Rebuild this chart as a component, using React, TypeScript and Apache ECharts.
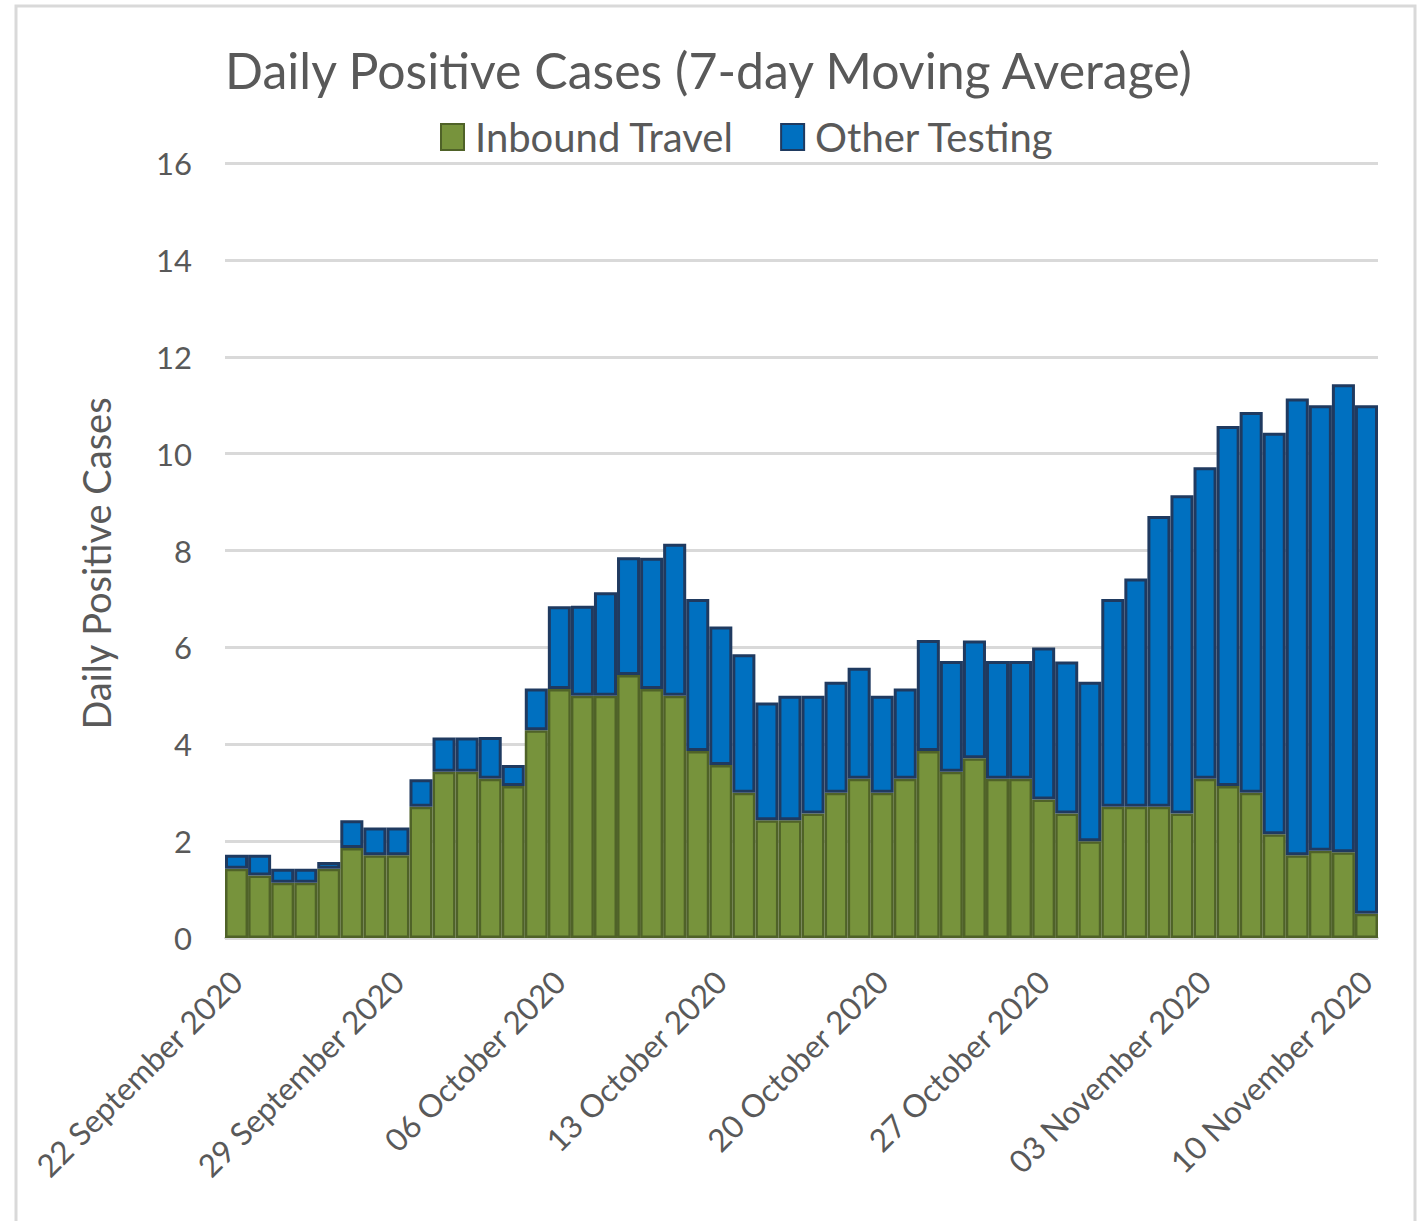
import React, { useEffect, useRef } from "react";
import * as echarts from "echarts";

const TITLE = "Daily Positive Cases (7-day Moving Average)";
const SERIES_NAMES = ["Inbound Travel", "Other Testing"];
const Y_AXIS_NAME = "Daily Positive Cases";
const START_DATE = [2020, 8, 22]; // 22 September 2020
const DAY_COUNT = 50;
const MONTHS = [
  "January", "February", "March", "April", "May", "June",
  "July", "August", "September", "October", "November", "December",
];

const inboundTravel = [
  1.43, 1.29, 1.14, 1.14, 1.43, 1.86, 1.71, 1.71, 2.71, 3.43,
  3.43, 3.29, 3.14, 4.29, 5.14, 5.0, 5.0, 5.43, 5.14, 5.0,
  3.86, 3.57, 3.0, 2.43, 2.43, 2.57, 3.0, 3.29, 3.0, 3.29,
  3.86, 3.43, 3.71, 3.29, 3.29, 2.86, 2.57, 2.0, 2.71, 2.71,
  2.71, 2.57, 3.29, 3.14, 3.0, 2.14, 1.71, 1.8, 1.77, 0.5,
];

const otherTesting = [
  0.29, 0.43, 0.29, 0.29, 0.14, 0.57, 0.57, 0.57, 0.57, 0.71,
  0.71, 0.86, 0.43, 0.86, 1.71, 1.86, 2.14, 2.43, 2.71, 3.14,
  3.14, 2.86, 2.86, 2.43, 2.57, 2.43, 2.29, 2.29, 2.0, 1.86,
  2.29, 2.29, 2.43, 2.43, 2.43, 3.14, 3.14, 3.29, 4.29, 4.71,
  6.0, 6.57, 6.43, 7.43, 7.86, 8.29, 9.43, 9.2, 9.66, 10.5,
];

const yTicks = [0, 2, 4, 6, 8, 10, 12, 14, 16];

function buildCategories(): string[] {
  const out: string[] = [];
  for (let i = 0; i < DAY_COUNT; i++) {
    const d = new Date(Date.UTC(START_DATE[0], START_DATE[1], START_DATE[2] + i));
    const dd = String(d.getUTCDate()).padStart(2, "0");
    out.push(`${dd} ${MONTHS[d.getUTCMonth()]} ${d.getUTCFullYear()}`);
  }
  return out;
}

const categories = buildCategories();

const FONT = 'Lato, "Open Sans", "Noto Sans", sans-serif';
const TEXT_COLOR = "#595959";
const GRID_COLOR = "#d9d9d9";

export default function App() {
  const ref = useRef<HTMLDivElement>(null);

  useEffect(() => {
    if (!ref.current) return;
    const chart = echarts.init(ref.current, undefined, { renderer: "svg" });
    chart.setOption({
      animation: false,
      backgroundColor: "#ffffff",
      textStyle: { fontFamily: FONT, color: TEXT_COLOR },
      title: {
        text: TITLE,
        left: "center",
        top: 40,
        textStyle: {
          fontFamily: FONT,
          fontSize: 50,
          fontWeight: "normal",
          color: TEXT_COLOR,
        },
      },
      legend: {
        data: SERIES_NAMES,
        left: 435,
        top: 112,
        itemWidth: 23,
        itemHeight: 26,
        itemGap: 46,
        icon: "rect",
        textStyle: {
          fontFamily: FONT,
          fontSize: 40,
          color: TEXT_COLOR,
          padding: [0, 0, 0, 6],
        },
      },
      graphic: [
        {
          type: "rect",
          shape: { x: 16, y: 6, width: 1399, height: 1240 },
          style: { fill: "none", stroke: GRID_COLOR, lineWidth: 3 },
          silent: true,
        },
      ],
      grid: { left: 225, right: 39, top: 163, bottom: 283, containLabel: false },
      xAxis: {
        type: "category",
        data: categories,
        boundaryGap: true,
        axisLine: { lineStyle: { color: GRID_COLOR, width: 2 } },
        axisTick: {
          interval: 6,
          length: 12,
          lineStyle: { color: GRID_COLOR, width: 2 },
        },
        axisLabel: {
          interval: 6,
          rotate: 45,
          margin: 38,
          fontFamily: FONT,
          fontSize: 31.5,
          color: TEXT_COLOR,
        },
      },
      yAxis: {
        type: "value",
        min: yTicks[0],
        max: yTicks[yTicks.length - 1],
        interval: 2,
        name: Y_AXIS_NAME,
        nameLocation: "middle",
        nameGap: 110,
        nameTextStyle: {
          fontFamily: FONT,
          fontSize: 38,
          color: TEXT_COLOR,
          padding: [0, 26, 0, 0],
        },
        axisLine: { show: false },
        axisTick: { show: false },
        axisLabel: {
          margin: 33,
          fontFamily: FONT,
          fontSize: 31,
          color: TEXT_COLOR,
        },
        splitLine: { lineStyle: { color: GRID_COLOR, width: 3 } },
      },
      series: [
        {
          name: SERIES_NAMES[0],
          type: "bar",
          stack: "cases",
          barCategoryGap: "0%",
          data: inboundTravel,
          itemStyle: { color: "#77933C", borderColor: "#4F6228", borderWidth: 2.5 },
        },
        {
          name: SERIES_NAMES[1],
          type: "bar",
          stack: "cases",
          barCategoryGap: "0%",
          data: otherTesting,
          itemStyle: { color: "#0070C0", borderColor: "#1F3A60", borderWidth: 3 },
        },
      ],
    });
    return () => chart.dispose();
  }, []);

  return (
    <div
      ref={ref}
      style={{ position: "fixed", left: 0, top: 0, width: 1417, height: 1221 }}
    />
  );
}
